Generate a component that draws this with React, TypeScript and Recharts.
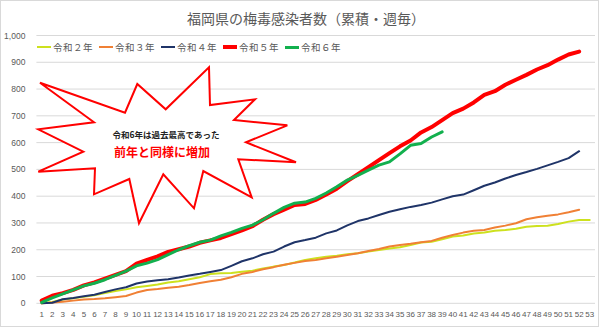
import React from 'react';
import { LineChart, Line, XAxis, YAxis, CartesianGrid } from 'recharts';

const weeks = ['1','2','3','4','5','6','7','8','9','10','11','12','13','14','15','16','17','18','19','20','21','22','23','24','25','26','27','28','29','30','31','32','33','34','35','36','37','38','39','40','41','42','43','44','45','46','47','48','49','50','51','52','53'];

const reiwa2 = [0,5,14,19,24,30,38,46,52,60,65,70,78,82,90,97,109,112,113,118,122,130,137,143,152,162,168,174,178,183,187,193,199,205,209,218,227,230,239,249,253,261,264,271,274,278,286,289,290,296,305,311,311];
const reiwa3 = [0,3,6,10,14,16,19,23,27,40,50,53,58,62,68,76,82,88,97,110,117,127,135,144,151,158,162,168,174,180,187,195,203,212,218,222,228,233,245,255,264,271,274,283,290,299,314,321,327,332,340,349,null];
const reiwa4 = [0,2,15,20,26,32,42,52,60,74,81,86,90,96,104,110,117,124,140,157,168,183,193,212,228,236,245,261,272,291,307,317,330,342,351,360,367,376,388,400,406,422,439,451,466,479,490,502,515,528,542,568,null];
const reiwa5 = [10,28,38,50,67,78,92,106,120,148,162,175,192,202,212,226,235,244,258,272,288,312,333,350,367,371,386,406,428,456,482,508,535,561,586,608,638,658,684,710,727,750,778,792,816,835,853,873,889,910,929,940,null];
const reiwa6 = [3,20,35,50,65,75,88,104,120,140,150,163,182,200,215,228,236,252,265,280,292,312,336,358,374,378,392,412,435,460,478,497,516,528,558,590,597,621,640,null,null,null,null,null,null,null,null,null,null,null,null,null,null];

const seriesNames = ['令和２年', '令和３年', '令和４年', '令和５年', '令和６年'];
const yTicks = [0, 100, 200, 300, 400, 500, 600, 700, 800, 900, 1000];

const title = '福岡県の梅毒感染者数（累積・週毎）';
const noteLine1 = '令和6年は過去最高であった';
const noteLine2 = '前年と同様に増加';

const series = [
  { key: 'r2', name: seriesNames[0], values: reiwa2, color: '#cde11e', width: 2 },
  { key: 'r3', name: seriesNames[1], values: reiwa3, color: '#f08035', width: 2 },
  { key: 'r4', name: seriesNames[2], values: reiwa4, color: '#1f3468', width: 2 },
  { key: 'r5', name: seriesNames[3], values: reiwa5, color: '#ff0000', width: 4 },
  { key: 'r6', name: seriesNames[4], values: reiwa6, color: '#12b04e', width: 3 },
];

const data = weeks.map((w, i) => {
  const row: Record<string, string | number | null> = { week: w };
  series.forEach((s) => {
    row[s.key] = s.values[i] ?? null;
  });
  return row;
});

const burstPoints = '40,82.7 125,112.7 137.3,84 165.7,109.3 209,67.3 210,105 255,99.3 234,120 287.3,125.3 246,142.3 296,162.3 238.3,159.3 251.7,197.3 203.3,171 194,208.3 163.3,174.3 139,223.3 129.3,179 94,194.3 95,168.3 38.3,171.7 83.3,151.7 38.3,129.3 94,122.3';

const jp = '"Noto Sans CJK JP", "Noto Sans", sans-serif';

export default function App() {
  return (
    <div style={{ position: 'absolute', left: 0, top: 0, width: 600, height: 328, background: '#fff' }}>
      <div style={{ position: 'absolute', left: 0, top: 0, width: 597, height: 325, border: '1px solid #d9d9d9' }} />
      <LineChart
        width={600}
        height={328}
        data={data}
        margin={{ top: 35.5, right: 5, bottom: 4.7, left: 0 }}
        style={{ position: 'absolute', left: 0, top: 0 }}
      >
        <CartesianGrid vertical={false} stroke="#d9d9d9" strokeWidth={1} />
        <XAxis
          dataKey="week"
          interval={0}
          axisLine={false}
          tickLine={false}
          tickSize={0}
          tickMargin={8}
          height={20}
          padding={{ left: 5.3, right: 5.3 }}
          tick={{ fontSize: 8, fill: '#595959', fontFamily: '"Liberation Sans", Arial, sans-serif' }}
        />
        <YAxis
          width={36.4}
          domain={[0, 1000]}
          ticks={yTicks}
          interval={0}
          axisLine={false}
          tickLine={false}
          tickSize={0}
          tickMargin={11}
          tickFormatter={(v: number) => v.toLocaleString('en-US')}
          tick={{ fontSize: 8.5, fill: '#595959', fontFamily: '"Liberation Sans", Arial, sans-serif' }}
        />
        {series.map((s) => (
          <Line
            key={s.key}
            type="linear"
            dataKey={s.key}
            name={s.name}
            stroke={s.color}
            strokeWidth={s.width}
            dot={false}
            activeDot={false}
            connectNulls={false}
            isAnimationActive={false}
            strokeLinejoin="round"
            strokeLinecap="round"
          />
        ))}
      </LineChart>
      <div style={{ position: 'absolute', left: 0, top: 8, width: 612, textAlign: 'center', fontFamily: jp, fontSize: 14, color: '#595959', lineHeight: '20px' }}>
        {title}
      </div>
      <div style={{ position: 'absolute', top: 40, left: 37, display: 'flex', fontFamily: jp, fontSize: 9.5, color: '#595959', lineHeight: '14px' }}>
        {series.map((s) => (
          <div key={s.key} style={{ display: 'flex', alignItems: 'center', width: 62 }}>
            <div style={{ width: 14, height: s.width, background: s.color, marginRight: 2 }} />
            <span style={{ letterSpacing: 0.5 }}>{s.name}</span>
          </div>
        ))}
      </div>
      <svg width={600} height={328} style={{ position: 'absolute', left: 0, top: 0, pointerEvents: 'none' }}>
        <polygon points={burstPoints} fill="#ffffff" stroke="#ff0000" strokeWidth={2} strokeLinejoin="miter" />
        <text x={166} y={133.5} textAnchor="middle" dominantBaseline="central" fontFamily={jp} fontSize={8.5} fontWeight="bold" fill="#222">
          {noteLine1}
        </text>
        <text x={162} y={151} textAnchor="middle" dominantBaseline="central" fontFamily={jp} fontSize={12} fontWeight="bold" fill="#ff0000">
          {noteLine2}
        </text>
      </svg>
    </div>
  );
}
